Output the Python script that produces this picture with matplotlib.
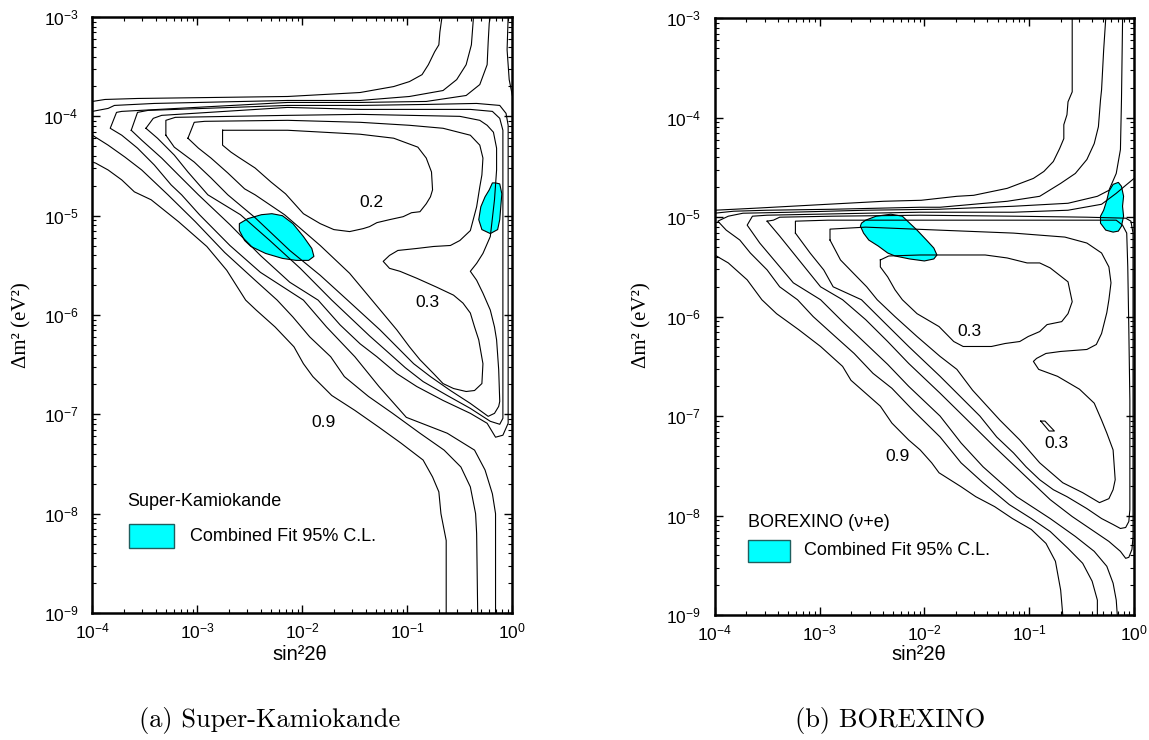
import matplotlib
matplotlib.use("Agg")
import matplotlib.pyplot as plt
import numpy as np
from matplotlib.patches import Rectangle
from matplotlib.ticker import FuncFormatter, LogLocator, NullFormatter

plt.rcParams["font.family"] = ["Liberation Sans", "DejaVu Sans"]
plt.rcParams["mathtext.fontset"] = "custom"
plt.rcParams["mathtext.rm"] = "Liberation Sans"
plt.rcParams["mathtext.it"] = "Liberation Sans:italic"
plt.rcParams["mathtext.bf"] = "Liberation Sans:bold"

# ---------------------------------------------------------------------------
# Contours, points are (log10 sin^2 2theta, log10 dm^2)
# ---------------------------------------------------------------------------

# Super-Kamiokande panel
SK_A_TOP = [
    (-4.00, -3.85), (-3.88, -3.83), (-3.57, -3.82), (-2.14, -3.80), (-1.45, -3.76),
    (-1.13, -3.70), (-0.98, -3.65), (-0.86, -3.58), (-0.80, -3.48), (-0.74, -3.35),
    (-0.70, -3.28), (-0.69, -3.15), (-0.67, -3.00),
]
SK_A_BOTTOM = [
    (-4.00, -4.46), (-3.97, -4.47), (-3.85, -4.54), (-3.72, -4.64), (-3.60, -4.76),
    (-3.44, -4.84), (-3.18, -5.06), (-2.91, -5.31), (-2.72, -5.55), (-2.54, -5.85),
    (-2.44, -5.95), (-2.26, -6.12), (-2.08, -6.32), (-1.99, -6.49), (-1.90, -6.62),
    (-1.72, -6.81), (-1.50, -6.96), (-1.27, -7.13), (-1.06, -7.29), (-0.85, -7.46),
    (-0.76, -7.63), (-0.70, -7.78), (-0.68, -8.00), (-0.63, -8.27), (-0.63, -9.00),
]
SK_B_TOP = [
    (-4.00, -3.95), (-3.85, -3.92), (-3.79, -3.89), (-3.41, -3.87), (-2.14, -3.84),
    (-1.45, -3.84), (-0.98, -3.80), (-0.66, -3.74), (-0.53, -3.63), (-0.44, -3.48),
    (-0.39, -3.28), (-0.37, -3.00),
]
SK_B_BOTTOM = [
    (-4.00, -4.19), (-3.97, -4.21), (-3.85, -4.29), (-3.69, -4.41), (-3.53, -4.54),
    (-3.38, -4.69), (-3.28, -4.79), (-3.02, -5.06), (-2.74, -5.37), (-2.45, -5.65),
    (-2.24, -5.85), (-2.09, -6.02), (-1.93, -6.22), (-1.73, -6.42), (-1.60, -6.62),
    (-1.37, -6.82), (-1.14, -6.99), (-0.88, -7.19), (-0.65, -7.36), (-0.49, -7.53),
    (-0.40, -7.73), (-0.35, -8.00), (-0.34, -8.20), (-0.33, -9.00),
]
SK_C = [
    (-0.21, -3.00), (-0.22, -3.06), (-0.23, -3.25), (-0.24, -3.48), (-0.31, -3.68),
    (-0.44, -3.79), (-0.82, -3.85), (-1.45, -3.86), (-2.14, -3.86), (-3.72, -3.95),
    (-3.77, -3.96), (-3.83, -4.12), (-3.72, -4.19), (-3.57, -4.32), (-3.41, -4.49),
    (-3.25, -4.69), (-3.15, -4.79), (-2.98, -4.99), (-2.69, -5.30), (-2.40, -5.57),
    (-1.99, -5.85), (-1.77, -6.12), (-1.50, -6.42), (-1.27, -6.72), (-1.01, -7.03),
    (-0.62, -7.19), (-0.36, -7.36), (-0.26, -7.56), (-0.19, -7.80), (-0.16, -8.00),
    (-0.16, -9.00),
]
SK_EDGE = [(-0.04, -3.00), (-0.05, -3.33), (-0.03, -3.63), (0.00, -3.79)]
SK_D = [
    (-3.63, -4.14), (-3.57, -3.96), (-3.47, -3.94), (-2.14, -3.89), (-1.45, -3.89),
    (-0.82, -3.88), (-0.34, -3.87), (-0.12, -3.89), (-0.06, -3.97), (-0.04, -4.09),
    (-0.04, -4.84), (-0.04, -5.85), (-0.04, -6.86), (-0.04, -7.09), (-0.09, -7.21),
    (-0.16, -7.23), (-0.24, -7.09), (-0.40, -6.99), (-0.66, -6.86), (-0.91, -6.72),
    (-1.10, -6.59), (-1.29, -6.42), (-1.45, -6.29), (-1.64, -6.10), (-1.85, -5.85),
    (-2.12, -5.67), (-2.40, -5.40), (-2.69, -5.09), (-2.99, -4.79), (-3.18, -4.59),
    (-3.34, -4.42), (-3.53, -4.24),
]
SK_E = [
    (-3.49, -4.12), (-3.42, -4.02), (-3.34, -3.99), (-2.14, -3.91), (-1.45, -3.93),
    (-0.40, -3.93), (-0.19, -3.95), (-0.12, -4.02), (-0.09, -4.14), (-0.09, -5.35),
    (-0.09, -6.86), (-0.09, -7.04), (-0.12, -7.10), (-0.21, -7.07), (-0.40, -6.94),
    (-0.62, -6.81), (-0.85, -6.67), (-1.02, -6.53), (-1.20, -6.36), (-1.36, -6.21),
    (-1.72, -5.85), (-2.02, -5.53), (-2.31, -5.25), (-2.59, -4.99), (-2.90, -4.79),
    (-3.09, -4.56), (-3.22, -4.39), (-3.38, -4.22),
]
SK_F = [
    (-3.30, -4.19), (-3.30, -4.04), (-3.21, -4.01), (-2.14, -3.99), (-1.45, -3.98),
    (-0.50, -4.00), (-0.31, -4.04), (-0.24, -4.09), (-0.18, -4.16), (-0.15, -4.32),
    (-0.15, -4.54), (-0.17, -4.84), (-0.21, -5.21), (-0.28, -5.38), (-0.34, -5.48),
    (-0.40, -5.56), (-0.34, -5.65), (-0.28, -5.78), (-0.21, -5.95), (-0.17, -6.12),
    (-0.15, -6.25), (-0.13, -6.55), (-0.12, -6.87), (-0.13, -6.92), (-0.17, -6.99),
    (-0.23, -7.02), (-0.40, -6.89), (-0.59, -6.76), (-0.78, -6.62), (-0.94, -6.49),
    (-1.10, -6.32), (-1.26, -6.15), (-1.57, -5.85), (-1.83, -5.60), (-2.12, -5.35),
    (-2.45, -5.02), (-2.71, -4.79), (-2.87, -4.62), (-3.03, -4.46), (-3.22, -4.31),
]
SK_G = [
    (-3.09, -4.22), (-3.03, -4.06), (-2.93, -4.05), (-2.14, -4.04), (-1.45, -4.06),
    (-0.98, -4.09), (-0.66, -4.12), (-0.40, -4.19), (-0.31, -4.29), (-0.28, -4.42),
    (-0.29, -4.59), (-0.31, -4.71), (-0.34, -4.91), (-0.40, -5.15), (-0.50, -5.25),
    (-0.59, -5.30), (-0.75, -5.31), (-0.91, -5.33), (-1.09, -5.35), (-1.17, -5.40),
    (-1.23, -5.46), (-1.17, -5.53), (-1.07, -5.56), (-0.91, -5.63), (-0.72, -5.72),
    (-0.56, -5.80), (-0.47, -5.88), (-0.40, -5.98), (-0.36, -6.12), (-0.32, -6.25),
    (-0.28, -6.49), (-0.29, -6.69), (-0.36, -6.76), (-0.44, -6.77), (-0.56, -6.74),
    (-0.66, -6.69), (-0.75, -6.59), (-0.88, -6.45), (-0.98, -6.32), (-1.10, -6.15),
    (-1.55, -5.58), (-1.83, -5.30), (-2.17, -4.99), (-2.45, -4.79), (-2.55, -4.73),
    (-2.71, -4.57), (-2.87, -4.42), (-2.99, -4.32),
]
SK_INNER = [
    (-2.76, -4.14), (-2.14, -4.14), (-1.45, -4.18), (-1.13, -4.22), (-0.90, -4.31),
    (-0.82, -4.42), (-0.77, -4.56), (-0.76, -4.74), (-0.78, -4.81), (-0.82, -4.88),
    (-0.88, -4.96), (-0.96, -4.97), (-1.04, -5.01), (-1.17, -5.04), (-1.29, -5.07),
    (-1.36, -5.11), (-1.42, -5.13), (-1.55, -5.16), (-1.70, -5.14), (-1.83, -5.08),
    (-1.99, -4.98), (-2.16, -4.78), (-2.30, -4.66), (-2.45, -4.52), (-2.61, -4.41),
    (-2.68, -4.36), (-2.76, -4.29),
]
SK_FIT_LEFT = [
    (-2.60, -5.08), (-2.52, -5.03), (-2.39, -4.99), (-2.29, -4.98), (-2.19, -5.00),
    (-2.09, -5.08), (-1.99, -5.21), (-1.91, -5.33), (-1.89, -5.41), (-1.94, -5.45),
    (-2.06, -5.45), (-2.19, -5.43), (-2.35, -5.38), (-2.49, -5.31), (-2.55, -5.25),
    (-2.60, -5.15),
]
SK_FIT_RIGHT = [
    (-0.16, -4.67), (-0.12, -4.68), (-0.10, -4.78), (-0.11, -4.91), (-0.12, -5.04),
    (-0.14, -5.14), (-0.21, -5.18), (-0.29, -5.14), (-0.32, -5.04), (-0.30, -4.91),
    (-0.26, -4.81), (-0.22, -4.74), (-0.19, -4.67),
]
SK_LABEL_TEXT = ["0.2", "0.3", "0.9"]
SK_LABEL_X = [-1.34, -0.81, -1.80]
SK_LABEL_Y = [-4.87, -5.87, -7.08]

# BOREXINO panel
BX_R1 = [
    (-4.00, -4.93), (-3.62, -4.91), (-3.27, -4.89), (-2.92, -4.87), (-2.39, -4.84),
    (-2.03, -4.83), (-1.69, -4.79), (-1.53, -4.78), (-1.21, -4.71), (-0.96, -4.61),
    (-0.86, -4.54), (-0.77, -4.44), (-0.71, -4.31), (-0.67, -4.21), (-0.67, -4.07),
    (-0.64, -3.97), (-0.63, -3.84), (-0.59, -3.74), (-0.59, -3.00),
]
BX_R2 = [
    (-4.00, -4.96), (-3.82, -4.94), (-3.50, -4.93), (-2.87, -4.92), (-2.04, -4.90),
    (-1.85, -4.90), (-1.21, -4.84), (-0.90, -4.79), (-0.70, -4.66), (-0.56, -4.56),
    (-0.45, -4.42), (-0.38, -4.26), (-0.34, -4.09), (-0.32, -3.82), (-0.31, -3.72),
    (-0.29, -3.32), (-0.27, -3.00),
]
BX_RA = [
    (-4.00, -5.38), (-3.87, -5.46), (-3.69, -5.63), (-3.55, -5.83), (-3.41, -5.97),
    (-3.20, -6.13), (-2.99, -6.30), (-2.78, -6.50), (-2.70, -6.64), (-2.56, -6.77),
    (-2.42, -6.90), (-2.31, -7.07), (-2.15, -7.24), (-2.04, -7.34), (-1.93, -7.47),
    (-1.86, -7.57), (-1.65, -7.71), (-1.51, -7.81), (-1.33, -7.91), (-1.16, -8.03),
    (-0.98, -8.14), (-0.84, -8.28), (-0.75, -8.46), (-0.70, -8.75), (-0.68, -9.00),
]
BX_C = [
    (-0.11, -3.00), (-0.11, -3.05), (-0.12, -3.82), (-0.13, -4.32), (-0.17, -4.56),
    (-0.24, -4.73), (-0.35, -4.79), (-0.63, -4.86), (-1.15, -4.89), (-1.86, -4.92),
    (-2.56, -4.93), (-3.27, -4.95), (-3.73, -4.96), (-3.87, -4.99), (-3.97, -5.04),
    (-3.89, -5.13), (-3.76, -5.23), (-3.66, -5.36), (-3.50, -5.53), (-3.38, -5.70),
    (-3.21, -5.83), (-3.06, -6.00), (-2.85, -6.20), (-2.67, -6.37), (-2.49, -6.57),
    (-2.31, -6.72), (-2.11, -6.94), (-1.85, -7.21), (-1.65, -7.47), (-1.44, -7.67),
    (-1.19, -7.89), (-0.98, -8.03), (-0.80, -8.16), (-0.63, -8.33), (-0.49, -8.48),
    (-0.40, -8.66), (-0.35, -8.85), (-0.35, -9.00),
]
BX_D = [
    (0.00, -4.61), (-0.08, -4.68), (-0.17, -4.76), (-0.31, -4.87), (-0.63, -4.93),
    (-1.15, -4.95), (-2.04, -4.95), (-2.55, -4.96), (-3.50, -4.98), (-3.64, -4.99),
    (-3.69, -5.08), (-3.57, -5.26), (-3.41, -5.46), (-3.25, -5.66), (-2.99, -5.83),
    (-2.78, -6.05), (-2.56, -6.27), (-2.35, -6.48), (-2.15, -6.70), (-1.85, -7.00),
    (-1.65, -7.27), (-1.44, -7.51), (-1.12, -7.81), (-0.80, -8.03), (-0.56, -8.21),
    (-0.38, -8.36), (-0.26, -8.51), (-0.20, -8.68), (-0.17, -8.85), (-0.16, -9.00),
]
BX_E = [
    (-3.50, -5.04), (-3.44, -5.03), (-3.38, -5.00), (-2.87, -4.99), (-2.04, -4.98),
    (-1.15, -4.99), (-0.45, -5.00), (-0.08, -5.01), (-0.03, -5.04), (-0.01, -5.16),
    (-0.01, -6.13), (-0.01, -7.17), (-0.01, -8.21), (-0.02, -8.34), (-0.05, -8.42),
    (-0.08, -8.43), (-0.13, -8.36), (-0.24, -8.26), (-0.38, -8.16), (-0.59, -8.01),
    (-0.80, -7.84), (-1.08, -7.56), (-1.33, -7.31), (-1.58, -7.05), (-1.85, -6.77),
    (-2.15, -6.47), (-2.35, -6.25), (-2.56, -6.03), (-2.78, -5.83), (-2.99, -5.70),
    (-3.12, -5.53), (-3.25, -5.36), (-3.38, -5.19),
]
BX_F = [
    (-3.23, -5.16), (-3.23, -5.04), (-2.92, -5.03), (-2.21, -5.03), (-1.51, -5.03),
    (-0.80, -5.03), (-0.17, -5.03), (-0.11, -5.08), (-0.07, -5.16), (-0.06, -5.50),
    (-0.05, -6.13), (-0.04, -6.84), (-0.04, -7.51), (-0.04, -7.94), (-0.05, -8.06),
    (-0.08, -8.12), (-0.13, -8.13), (-0.20, -8.09), (-0.31, -8.03), (-0.45, -7.93),
    (-0.64, -7.81), (-0.77, -7.74), (-0.90, -7.64), (-1.03, -7.51), (-1.15, -7.37),
    (-1.31, -7.21), (-1.47, -7.00), (-1.66, -6.80), (-1.85, -6.60), (-2.15, -6.30),
    (-2.39, -6.05), (-2.60, -5.83), (-2.87, -5.70), (-2.96, -5.53), (-3.09, -5.36),
]
BX_G = [
    (-2.90, -5.23), (-2.90, -5.12), (-2.56, -5.10), (-1.86, -5.13), (-1.15, -5.16),
    (-0.66, -5.20), (-0.45, -5.26), (-0.31, -5.36), (-0.24, -5.50), (-0.22, -5.66),
    (-0.24, -5.83), (-0.26, -5.96), (-0.31, -6.17), (-0.36, -6.28), (-0.45, -6.33),
    (-0.70, -6.35), (-0.84, -6.37), (-0.93, -6.42), (-0.96, -6.45), (-0.91, -6.53),
    (-0.73, -6.60), (-0.52, -6.73), (-0.38, -6.87), (-0.31, -7.04), (-0.26, -7.17),
    (-0.20, -7.34), (-0.18, -7.64), (-0.20, -7.74), (-0.24, -7.83), (-0.33, -7.87),
    (-0.49, -7.77), (-0.68, -7.67), (-0.90, -7.47), (-1.09, -7.24), (-1.28, -7.04),
    (-1.54, -6.74), (-1.69, -6.53), (-1.85, -6.40), (-2.07, -6.20), (-2.28, -6.00),
    (-2.45, -5.83), (-2.55, -5.70), (-2.68, -5.56), (-2.80, -5.43),
]
BX_INNER = [
    (-2.42, -5.43), (-2.34, -5.39), (-2.04, -5.38), (-1.42, -5.38), (-1.21, -5.41),
    (-1.02, -5.46), (-0.90, -5.46), (-0.80, -5.51), (-0.63, -5.65), (-0.59, -5.85),
    (-0.63, -5.97), (-0.69, -6.05), (-0.83, -6.08), (-0.90, -6.15), (-1.01, -6.20),
    (-1.09, -6.25), (-1.23, -6.27), (-1.36, -6.30), (-1.63, -6.30), (-1.72, -6.25),
    (-1.86, -6.10), (-2.07, -5.97), (-2.21, -5.83), (-2.28, -5.73), (-2.35, -5.60),
    (-2.42, -5.50),
]
BX_SPECK = [(-0.89, -7.05), (-0.85, -7.05), (-0.76, -7.15), (-0.81, -7.15)]
BX_FIT_LEFT = [
    (-2.60, -5.06), (-2.56, -5.03), (-2.46, -4.99), (-2.32, -4.97), (-2.21, -4.99),
    (-2.16, -5.04), (-2.07, -5.13), (-1.98, -5.23), (-1.91, -5.31), (-1.88, -5.38),
    (-1.91, -5.42), (-2.00, -5.44), (-2.14, -5.42), (-2.28, -5.39), (-2.35, -5.36),
    (-2.44, -5.29), (-2.53, -5.23), (-2.58, -5.16), (-2.61, -5.09),
]
BX_FIT_RIGHT = [
    (-0.20, -4.67), (-0.15, -4.65), (-0.12, -4.69), (-0.10, -4.79), (-0.11, -4.89),
    (-0.10, -4.99), (-0.12, -5.09), (-0.15, -5.14), (-0.20, -5.15), (-0.27, -5.13),
    (-0.32, -5.06), (-0.32, -4.99), (-0.29, -4.93), (-0.26, -4.83), (-0.24, -4.74),
]
BX_LABEL_TEXT = ["0.3", "0.3", "0.9"]
BX_LABEL_X = [-1.57, -0.74, -2.26]
BX_LABEL_Y = [-6.15, -7.28, -7.41]

FIT_COLOR = "#00FFFF"


# ---------------------------------------------------------------------------
# Helpers
# ---------------------------------------------------------------------------

def to_xy(points, closed=False):
    pts = list(points) + ([points[0]] if closed else [])
    return [10.0 ** p[0] for p in pts], [10.0 ** p[1] for p in pts]


def power_label(v, pos):
    return r"$\mathregular{10^{%d}}$" % int(np.round(np.log10(v)))


def style_axes(ax):
    ax.set_xscale("log")
    ax.set_yscale("log")
    ax.set_xlim(1e-4, 1)
    ax.set_ylim(1e-9, 1e-3)
    for axis in (ax.xaxis, ax.yaxis):
        axis.set_major_locator(LogLocator(base=10, numticks=12))
        axis.set_minor_locator(LogLocator(base=10, subs=np.arange(2, 10), numticks=100))
        axis.set_major_formatter(FuncFormatter(power_label))
        axis.set_minor_formatter(NullFormatter())
    ax.tick_params(which="both", direction="in", top=True, right=True)
    ax.tick_params(which="major", length=6, width=1.0, labelsize=12.5)
    ax.tick_params(which="minor", length=3, width=0.8)
    ax.tick_params(axis="x", which="major", pad=6)
    ax.tick_params(axis="y", which="major", pad=10)
    for s in ax.spines.values():
        s.set_linewidth(1.8)


def draw_panel(ax, open_lines, closed_lines, fits, texts, xs, ys, title, leg_y):
    for pts in open_lines:
        x, y = to_xy(pts)
        ax.plot(x, y, color="black", lw=0.8, zorder=3)
    for pts in closed_lines:
        x, y = to_xy(pts, closed=True)
        ax.plot(x, y, color="black", lw=0.8, zorder=3)
    for pts in fits:
        x, y = to_xy(pts, closed=True)
        ax.fill(x, y, facecolor=FIT_COLOR, edgecolor="black", lw=0.8, zorder=2)
    for t, lx, ly in zip(texts, xs, ys):
        ax.text(10.0 ** lx, 10.0 ** ly, t, ha="center", va="center", fontsize=12.5, zorder=4)

    # hand drawn legend in the lower left corner
    ty, ry0, ry1, tx, rx0, rx1, lx = leg_y
    ax.text(tx, ty, title, transform=ax.transAxes, ha="left", va="center", fontsize=13)
    ax.add_patch(Rectangle((rx0, ry0), rx1 - rx0, ry1 - ry0, transform=ax.transAxes,
                           facecolor=FIT_COLOR, edgecolor="#1f5f5f", lw=1.0))
    ax.text(lx, (ry0 + ry1) / 2, "Combined Fit 95% C.L.", transform=ax.transAxes,
            ha="left", va="center", fontsize=13)
    style_axes(ax)


# ---------------------------------------------------------------------------
# Figure
# ---------------------------------------------------------------------------

fig = plt.figure(figsize=(11.49, 7.40), dpi=100)
ax1 = fig.add_axes([0.0804, 0.1716, 0.3655, 0.8054])
ax2 = fig.add_axes([0.6220, 0.1689, 0.3650, 0.8064])

draw_panel(
    ax1,
    [SK_A_TOP, SK_A_BOTTOM, SK_B_TOP, SK_B_BOTTOM, SK_C, SK_EDGE],
    [SK_D, SK_E, SK_F, SK_G, SK_INNER],
    [SK_FIT_LEFT, SK_FIT_RIGHT],
    SK_LABEL_TEXT, SK_LABEL_X, SK_LABEL_Y,
    "Super-Kamiokande",
    (0.187, 0.109, 0.149, 0.0835, 0.0877, 0.194, 0.2335),
)
draw_panel(
    ax2,
    [BX_R1, BX_R2, BX_RA, BX_C, BX_D],
    [BX_E, BX_F, BX_G, BX_INNER, BX_SPECK],
    [BX_FIT_LEFT, BX_FIT_RIGHT],
    BX_LABEL_TEXT, BX_LABEL_X, BX_LABEL_Y,
    "BOREXINO (\u03bd+e)",
    (0.155, 0.089, 0.126, 0.080, 0.080, 0.180, 0.214),
)

serif = ["Liberation Serif", "DejaVu Serif"]
for xpix in (22, 642):
    fig.text(xpix / 1149, 1 - 325 / 740, "\u0394m\u00b2 (eV\u00b2)", rotation=90,
             ha="center", va="center", family=serif, fontsize=15)
for xpix in (300, 919):
    fig.text(xpix / 1149, 1 - 655 / 740, "sin\u00b22\u03b8", ha="center", va="center",
             fontsize=14.5)
fig.text(270 / 1149, 1 - 720 / 740, "(a) Super-Kamiokande", ha="center", va="center",
         family="cmr10", fontsize=19)
fig.text(890 / 1149, 1 - 720 / 740, "(b) BOREXINO", ha="center", va="center",
         family="cmr10", fontsize=19)

fig.savefig("out.png", dpi=100)
